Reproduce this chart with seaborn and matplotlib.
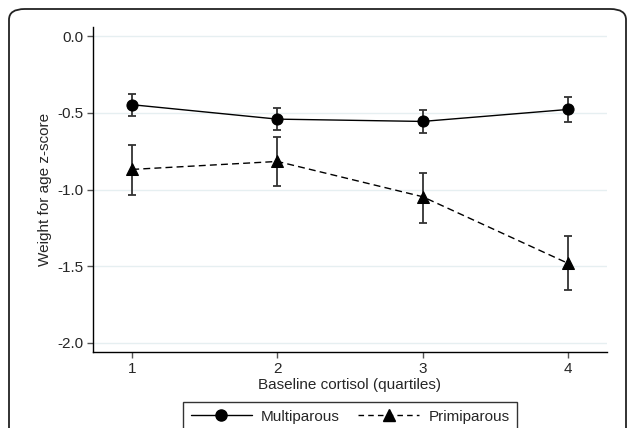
import matplotlib
matplotlib.use("Agg")
import matplotlib.pyplot as plt
from matplotlib.patches import FancyBboxPatch
import seaborn as sns
import pandas as pd

quartiles = [1, 2, 3, 4]
multi_mean = [-0.447, -0.541, -0.556, -0.478]
multi_lo = [-0.519, -0.610, -0.632, -0.560]
multi_hi = [-0.378, -0.469, -0.480, -0.395]
primi_mean = [-0.869, -0.817, -1.047, -1.481]
primi_lo = [-1.038, -0.975, -1.216, -1.655]
primi_hi = [-0.710, -0.660, -0.893, -1.303]
groups = ["Multiparous", "Primiparous"]
yticks = [0.0, -0.5, -1.0, -1.5, -2.0]

df = pd.DataFrame({
    "quartile": quartiles * 2,
    "z": multi_mean + primi_mean,
    "group": [groups[0]] * 4 + [groups[1]] * 4,
})

sns.set_style("white")
plt.rcParams["font.family"] = ["Liberation Sans", "DejaVu Sans"]

fig = plt.figure(figsize=(6.27, 4.28), dpi=100)
ax = fig.add_axes([93 / 627, 1 - 352 / 428, (607 - 93) / 627, (352 - 27) / 428])

# outer rounded frame (runs off the bottom like the original)
frame = FancyBboxPatch((9 / 627, -0.2), (626 - 9) / 627, 1.2 - 9 / 428,
                       boxstyle="round,pad=0,rounding_size=0.025",
                       transform=fig.transFigure, fill=False,
                       edgecolor="#222222", linewidth=1.3, zorder=0)
fig.patches.append(frame)

for y in yticks:
    ax.axhline(y, color="#e6eff1", lw=1, zorder=0)

sns.lineplot(data=df, x="quartile", y="z", hue="group", style="group",
             palette=["black", "black"], markers={"Multiparous": "o", "Primiparous": "^"},
             dashes={"Multiparous": "", "Primiparous": (5, 3)},
             markersize=8, markeredgecolor="black", linewidth=1,
             legend=False, ax=ax, zorder=3)

for mean, lo, hi in [(multi_mean, multi_lo, multi_hi), (primi_mean, primi_lo, primi_hi)]:
    err = [[m - l for m, l in zip(mean, lo)], [h - m for m, h in zip(mean, hi)]]
    ax.errorbar(quartiles, mean, yerr=err, fmt="none", ecolor="#333333",
                elinewidth=1.3, capsize=3, capthick=1.3, zorder=2)

ax.set_xlim(0.73, 4.27)
ax.set_ylim(-2.06, 0.06)
ax.set_xticks(quartiles)
ax.set_yticks(yticks)
ax.set_yticklabels([f"{v:.1f}" for v in yticks])
ax.tick_params(axis="both", direction="out", length=4, width=1, color="#555555",
               labelsize=11, pad=3, left=True, bottom=True)
for s in ["top", "right"]:
    ax.spines[s].set_visible(False)
for s in ["left", "bottom"]:
    ax.spines[s].set_color("black")
    ax.spines[s].set_linewidth(1)
ax.set_xlabel("Baseline cortisol (quartiles)", fontsize=11, labelpad=2)
ax.set_ylabel("Weight for age z-score", fontsize=11, labelpad=4)

h1, = ax.plot([], [], color="black", marker="o", markersize=8, lw=1)
h2, = ax.plot([], [], color="black", marker="^", markersize=8, lw=1, dashes=(4, 3))
leg = fig.legend([h1, h2], groups, loc="upper left",
                 bbox_to_anchor=(183 / 627, 1 - 402 / 428), ncol=2,
                 frameon=True, fancybox=False, edgecolor="black", fontsize=11,
                 handlelength=4, columnspacing=1.2, borderpad=0.5,
                 borderaxespad=0, handletextpad=0.6)
leg.get_frame().set_linewidth(1)

fig.savefig("out.png", dpi=100)
